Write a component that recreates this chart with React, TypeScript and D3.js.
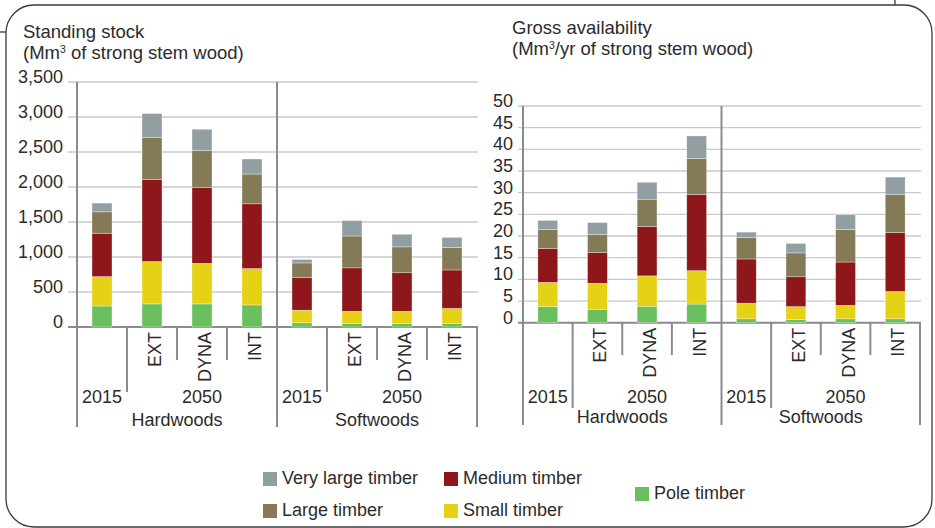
import React from 'react'
import * as d3 from 'd3'

// categories
const GROUPS = ['Hardwoods', 'Softwoods']
const SCENARIOS = ['2015', 'EXT', 'DYNA', 'INT']
const SERIES = ['Pole timber', 'Small timber', 'Medium timber', 'Large timber', 'Very large timber']
const COLORS = ['#6abf5f', '#e5d214', '#8e171c', '#847a56', '#929fa2']

// standing stock (Mm3), order: HW 2015, EXT, DYNA, INT, SW 2015, EXT, DYNA, INT
const stockPole = [300, 330, 330, 315, 60, 50, 50, 50]
const stockSmall = [420, 605, 580, 520, 180, 175, 175, 215]
const stockMedium = [620, 1175, 1080, 925, 470, 620, 550, 550]
const stockLarge = [305, 595, 535, 425, 205, 455, 370, 320]
const stockVeryLarge = [125, 345, 300, 215, 50, 220, 180, 145]
const stockTicks = [0, 500, 1000, 1500, 2000, 2500, 3000, 3500]

// gross availability (Mm3/yr)
const availPole = [3.7, 3.1, 3.8, 4.3, 0.9, 0.7, 0.9, 0.9]
const availSmall = [5.6, 6.0, 7.0, 7.7, 3.6, 3.0, 3.1, 6.3]
const availMedium = [7.8, 7.1, 11.4, 17.6, 10.2, 6.9, 10.0, 13.6]
const availLarge = [4.4, 4.2, 6.3, 8.3, 5.0, 5.5, 7.5, 8.8]
const availVeryLarge = [2.1, 2.7, 3.9, 5.2, 1.2, 2.2, 3.4, 4.0]
const availTicks = [0, 5, 10, 15, 20, 25, 30, 35, 40, 45, 50]

const FONT = '"Liberation Sans", Arial, Helvetica, sans-serif'
const TEXT = '#2b2b2b'
const AXIS = '#8b8b8f'
const GRID = '#c9c9cb'

interface PanelProps {
  values: number[][]
  ticks: number[]
  x0: number
  x1: number
  yTop: number
  yBottom: number
  yearLineEnd: number
  scenLineEnd: number
  groupLineEnd: number
  yearBaseline: number
  groupBaseline: number
  tickFormat: (v: number) => string
  tickLeft: number
}

function Panel(p: PanelProps) {
  const cats = GROUPS.flatMap(g => SCENARIOS.map(s => `${g}|${s}`))
  const x = d3.scaleBand<string>().domain(cats).range([p.x0, p.x1]).paddingInner(0.6).paddingOuter(0.3)
  const y = d3.scaleLinear().domain([0, d3.max(p.ticks) as number]).range([p.yBottom, p.yTop])
  const step = x.step()

  const rows = cats.map((c, i) => {
    const r: any = { cat: c }
    SERIES.forEach((s, k) => { r[s] = p.values[k][i] })
    return r
  })
  const stacked = d3.stack<any>().keys(SERIES)(rows)

  const bounds = d3.range(cats.length + 1).map(i => p.x0 + i * step)

  return (
    <g fontFamily={FONT} fill={TEXT}>
      {/* grid + ticks */}
      {p.ticks.map(t => (
        <g key={t}>
          <line x1={p.tickLeft} x2={p.x1 + 1} y1={y(t)} y2={y(t)}
            stroke={t === 0 ? AXIS : GRID} strokeWidth={t === 0 ? 2 : 1.3} />
          <text x={p.tickLeft - 5} y={y(t) + 1} textAnchor="end" fontSize={18}>{p.tickFormat(t)}</text>
        </g>
      ))}

      {/* bars */}
      {stacked.map((layer, k) => (
        <g key={layer.key} fill={COLORS[k]}>
          {layer.map((d, i) => (
            <rect key={i} x={x(cats[i])} width={x.bandwidth()}
              y={y(d[1])} height={y(d[0]) - y(d[1])}
              stroke="rgba(255,255,255,0.55)" strokeWidth={0.6} />
          ))}
        </g>
      ))}

      {/* vertical axis / category lines */}
      {bounds.map((bx, i) => {
        const pos = i % SCENARIOS.length
        let top = p.yBottom
        let end = p.scenLineEnd
        if (pos === 0) {
          end = p.groupLineEnd
          if (i !== cats.length) top = p.yTop
        } else if (pos === 1) {
          end = p.yearLineEnd
        }
        return <line key={i} x1={bx} x2={bx} y1={top} y2={end} stroke={AXIS} strokeWidth={2} />
      })}

      {/* scenario labels */}
      {cats.map((c, i) => {
        const s = c.split('|')[1]
        if (s === '2015') return null
        const cx = (x(c) as number) + x.bandwidth() / 2 + 3
        const ty = p.yBottom + 5
        return (
          <text key={c} transform={`translate(${cx},${ty}) rotate(-90)`} textAnchor="end"
            dominantBaseline="central" fontSize={18}>{s}</text>
        )
      })}

      {/* year + group labels */}
      {GROUPS.map((g, gi) => {
        const gx = p.x0 + gi * SCENARIOS.length * step
        return (
          <g key={g}>
            <text x={gx + step / 2} y={p.yearBaseline} textAnchor="middle" fontSize={18}>2015</text>
            <text x={gx + step * 2.5} y={p.yearBaseline} textAnchor="middle" fontSize={18}>2050</text>
            <text x={gx + step * 2} y={p.groupBaseline} textAnchor="middle" fontSize={18}>{g}</text>
          </g>
        )
      })}
    </g>
  )
}

const LEGEND = [
  { s: 'Very large timber', x: 263, y: 472 },
  { s: 'Large timber', x: 263, y: 504 },
  { s: 'Medium timber', x: 444, y: 472 },
  { s: 'Small timber', x: 444, y: 504 },
  { s: 'Pole timber', x: 635, y: 487 },
]

export default function App() {
  const fmt = d3.format(',')
  return (
    <svg width={935} height={528} style={{ position: 'fixed', left: 0, top: 0, background: '#fff' }}>
      {/* frame */}
      <rect x={6} y={5} width={926} height={522} rx={28} ry={28} fill="none" stroke="#3a3a3a" strokeWidth={1.3} />
      <line x1={0} x2={6} y1={32} y2={32} stroke="#3a3a3a" strokeWidth={1.3} />
      <line x1={895} x2={895} y1={0} y2={5} stroke="#3a3a3a" strokeWidth={1.3} />

      {/* titles */}
      <g fontFamily={FONT} fill={TEXT} fontSize={18.5}>
        <text x={23} y={38}>Standing stock</text>
        <text x={23} y={59}>(Mm<tspan fontSize={10.5} dy={-6}>3</tspan><tspan dy={6}> of strong stem wood)</tspan></text>
        <text x={512} y={34}>Gross availability</text>
        <text x={512} y={55}>(Mm<tspan fontSize={10.5} dy={-6}>3</tspan><tspan dy={6}>/yr of strong stem wood)</tspan></text>
      </g>

      <Panel
        values={[stockPole, stockSmall, stockMedium, stockLarge, stockVeryLarge]}
        ticks={stockTicks}
        x0={77} x1={477} yTop={82} yBottom={327}
        yearLineEnd={392} scenLineEnd={360} groupLineEnd={427}
        yearBaseline={403} groupBaseline={426}
        tickFormat={fmt} tickLeft={68}
      />
      <Panel
        values={[availPole, availSmall, availMedium, availLarge, availVeryLarge]}
        ticks={availTicks}
        x0={523} x1={920} yTop={106} yBottom={322.7}
        yearLineEnd={408} scenLineEnd={355} groupLineEnd={425}
        yearBaseline={403} groupBaseline={423}
        tickFormat={d => String(d)} tickLeft={518}
      />

      {/* legend */}
      <g fontFamily={FONT} fill={TEXT} fontSize={18}>
        {LEGEND.map(l => (
          <g key={l.s}>
            <rect x={l.x} y={l.y} width={14} height={14} fill={COLORS[SERIES.indexOf(l.s)]} />
            <text x={l.x + 19} y={l.y + 12}>{l.s}</text>
          </g>
        ))}
      </g>
    </svg>
  )
}
